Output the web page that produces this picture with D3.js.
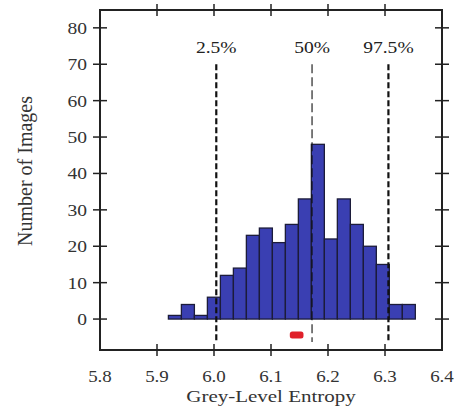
<!DOCTYPE html>
<html><head><meta charset="utf-8">
<script src="https://cdn.jsdelivr.net/npm/d3@7"></script>
<style>body{margin:0;background:#fff}svg{display:block}</style>
</head><body>
<script>
const binStart = 5.92;
const binWidth = 0.0228;
const counts = [1,4,1,6,12,14,23,25,21,26,33,48,22,33,26,20,15,4,4];
const percentiles = [
  {label:"2.5%", value:6.004, heavy:true},
  {label:"50%", value:6.172, heavy:false},
  {label:"97.5%", value:6.306, heavy:true}
];
const xTicks = [5.8,5.9,6.0,6.1,6.2,6.3,6.4];
const yTicks = [0,10,20,30,40,50,60,70,80];
const redMark = {x0:6.133, x1:6.157, y:-4.4};
const xTitle = "Grey-Level Entropy";
const yTitle = "Number of Images";

const W=454,H=406;
const L=100,R=442,T=10,B=350;
const SX=1.15;
const svg=d3.select("body").append("svg").attr("width",W).attr("height",H);
const x=d3.scaleLinear().domain([5.8,6.4]).range([L,R]);
const y=d3.scaleLinear().domain([-8.5,84.9]).range([B,T]);
const font="'Liberation Serif','Times New Roman',serif";

const bins=counts.map((c,i)=>({x0:binStart+i*binWidth,x1:binStart+(i+1)*binWidth,c}));
svg.append("g").selectAll("rect").data(bins).join("rect")
  .attr("x",d=>x(d.x0)).attr("width",d=>x(d.x1)-x(d.x0))
  .attr("y",d=>y(d.c)).attr("height",d=>y(0)-y(d.c))
  .attr("fill","#3a3fb2").attr("stroke","#1c1c3a").attr("stroke-width",1.3);

function stretchedText(sel,px,py){
  return sel.attr("transform",(d,i)=>`translate(${px(d,i)},${py(d,i)}) scale(${SX},1)`);
}

// percentile lines
const pg=svg.append("g");
pg.selectAll("line").data(percentiles).join("line")
  .attr("x1",d=>x(d.value)).attr("x2",d=>x(d.value))
  .attr("y1",y(70)).attr("y2",y(-6.3))
  .attr("stroke","#111")
  .attr("stroke-width",d=>d.heavy?2.2:1.1)
  .attr("stroke-dasharray",d=>d.heavy?"6,3":"9,4");
stretchedText(pg.selectAll("text").data(percentiles).join("text"),d=>x(d.value),()=>53)
  .attr("text-anchor","middle").attr("font-family",font).attr("font-size",17)
  .attr("fill","#222").text(d=>d.label);

// red marker
svg.append("rect").attr("x",x(redMark.x0)).attr("width",x(redMark.x1)-x(redMark.x0))
  .attr("y",y(redMark.y)-3.5).attr("height",7).attr("rx",2.5)
  .attr("fill","#e0202a");

// frame
const fc="#222";
svg.append("path").attr("d",`M${L},${T}H${R}V${B}H${L}Z`).attr("fill","none")
  .attr("stroke",fc).attr("stroke-width",2);

// axes (ticks crossing frame)
const ax=svg.append("g").attr("stroke",fc).attr("stroke-width",1.5);
ax.selectAll(".yl").data(yTicks).join("line")
  .attr("x1",L-7).attr("x2",L+7).attr("y1",d=>y(d)).attr("y2",d=>y(d));
ax.selectAll(".yr").data(yTicks).join("line")
  .attr("x1",R-7).attr("x2",R+7).attr("y1",d=>y(d)).attr("y2",d=>y(d));
ax.selectAll(".xb").data(xTicks.slice(1,-1)).join("line")
  .attr("y1",B-6).attr("y2",B+6).attr("x1",d=>x(d)).attr("x2",d=>x(d));
ax.selectAll(".xt").data(xTicks.slice(1,-1)).join("line")
  .attr("y1",T-6).attr("y2",T+6).attr("x1",d=>x(d)).attr("x2",d=>x(d));

stretchedText(svg.append("g").selectAll("text").data(yTicks).join("text"),()=>L-13,d=>y(d))
  .attr("dy","0.35em").attr("text-anchor","end")
  .attr("font-family",font).attr("font-size",17).attr("fill","#333").text(d=>d);
stretchedText(svg.append("g").selectAll("text").data(xTicks).join("text"),d=>x(d),()=>382)
  .attr("text-anchor","middle")
  .attr("font-family",font).attr("font-size",16.5).attr("fill","#333").text(d=>d.toFixed(1));

svg.append("text").attr("transform",`translate(${(L+R)/2},402) scale(1.2,1)`).attr("text-anchor","middle")
  .attr("font-family",font).attr("font-size",17.5).attr("fill","#333").text(xTitle);
svg.append("text").attr("transform","translate(32,171) rotate(-90)").attr("text-anchor","middle")
  .attr("font-family",font).attr("font-size",20).attr("fill","#333").text(yTitle);
</script>
</body></html>
